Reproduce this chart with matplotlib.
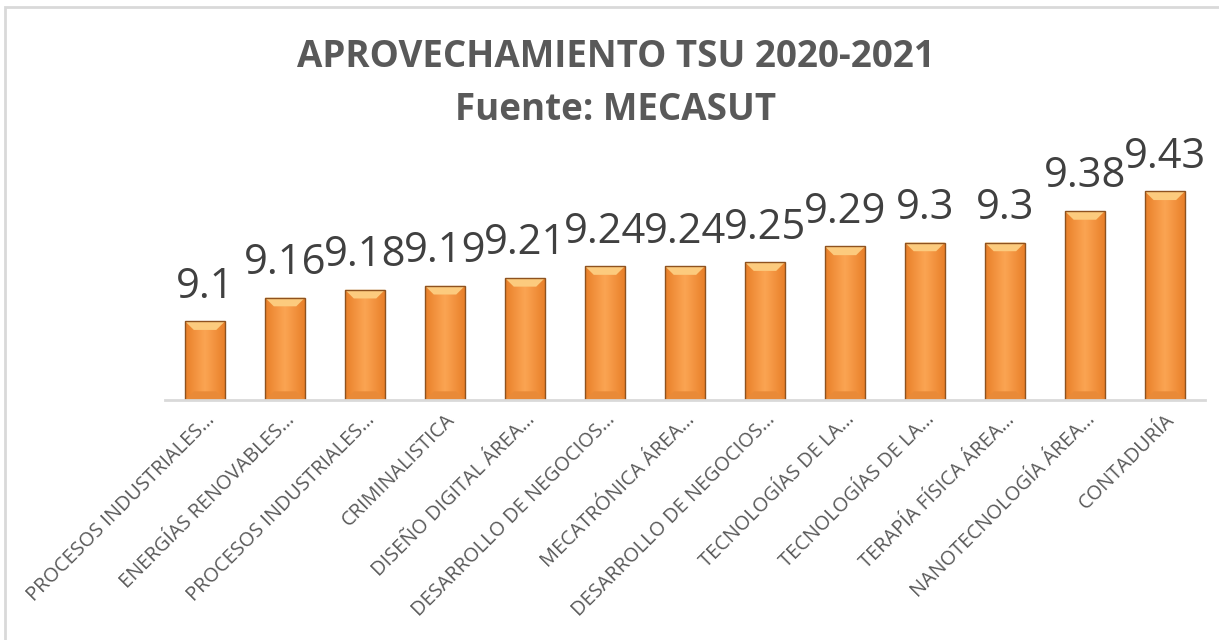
import numpy as np
import matplotlib
matplotlib.use('Agg')
from matplotlib import pyplot as plt
from matplotlib.patches import Polygon, Rectangle

plt.rcParams['font.family'] = ['Open Sans', 'DejaVu Sans']

carreras = ['PROCESOS INDUSTRIALES…', 'ENERGÍAS RENOVABLES…', 'PROCESOS INDUSTRIALES…',
            'CRIMINALISTICA', 'DISEÑO DIGITAL ÁREA…', 'DESARROLLO DE NEGOCIOS…',
            'MECATRÓNICA ÁREA…', 'DESARROLLO DE NEGOCIOS…', 'TECNOLOGÍAS DE LA…',
            'TECNOLOGÍAS DE LA…', 'TERAPÍA FÍSICA ÁREA…', 'NANOTECNOLOGÍA ÁREA…',
            'CONTADURÍA']
aprovechamiento = [9.1, 9.16, 9.18, 9.19, 9.21, 9.24, 9.24, 9.25, 9.29, 9.3, 9.3, 9.38, 9.43]
etiquetas = ['9.1', '9.16', '9.18', '9.19', '9.21', '9.24', '9.24', '9.25', '9.29', '9.3', '9.3', '9.38', '9.43']

ymin, ymax = 8.9, 9.5
gris = '#595959'

fig = plt.figure(figsize=(12.19, 6.4), dpi=100)
# marco exterior (solo se ven arriba e izquierda)
fig.patches.append(Rectangle((0.0045, -0.05), 1.1, 1.039, transform=fig.transFigure,
                             fill=False, edgecolor='#D9D9D9', lw=2))
ax = fig.add_axes((0.1354, 0.375, 0.853, 0.369))

x = np.arange(len(carreras))
w = 0.5
bars = ax.bar(x, np.array(aprovechamiento) - ymin, bottom=ymin, width=w,
              color='#F7963F', lw=0, zorder=2)

# degradado horizontal y biselado
grad = np.linspace(0, 1, 50)
grad = 1 - np.abs(grad - 0.5) * 2
cmap = matplotlib.colors.LinearSegmentedColormap.from_list('o', ['#E9802A', '#FBA452'])
for b, v in zip(bars, aprovechamiento):
    x0 = b.get_x()
    im = ax.imshow(grad[np.newaxis, :], extent=(x0, x0 + w, ymin, v), aspect='auto',
                   cmap=cmap, zorder=2.1)
    im.set_clip_path(b)
    bev = 0.022
    ax.add_patch(Polygon([(x0, v), (x0 + w, v), (x0 + w - 0.11, v - bev), (x0 + 0.11, v - bev)],
                         closed=True, color='#FCCB7E', lw=0, zorder=2.2))
    ax.add_patch(Polygon([(x0, ymin), (x0 + w, ymin), (x0 + w - 0.11, ymin + bev), (x0 + 0.11, ymin + bev)],
                         closed=True, color='#E98A38', lw=0, zorder=2.2))
    ax.add_patch(Rectangle((x0, ymin), w, v - ymin, fill=False, edgecolor='#8E521F', lw=1.0, zorder=2.3))

for xi, v, t in zip(x, aprovechamiento, etiquetas):
    ax.annotate(t, (xi, v), xytext=(0, 17), textcoords='offset points', ha='center', va='baseline',
                fontsize=30, color='#404040')

ax.set_xlim(-0.5, len(carreras) - 0.5)
ax.set_ylim(ymin, ymax)
ax.set_yticks([])
ax.set_xticks(x)
ax.set_xticklabels(carreras, rotation=45, ha='right', rotation_mode='anchor',
                   fontsize=14.3, color=gris)
ax.tick_params(axis='x', length=0, pad=7)
for s in ['top', 'right', 'left']:
    ax.spines[s].set_visible(False)
ax.spines['bottom'].set_color('#D9D9D9')
ax.spines['bottom'].set_linewidth(2)
ax.patch.set_visible(False)

fig.text(0.505, 0.911, 'APROVECHAMIENTO TSU 2020-2021', ha='center', va='center',
         fontsize=26.5, fontweight='bold', color=gris)
fig.text(0.505, 0.828, 'Fuente: MECASUT', ha='center', va='center',
         fontsize=26.5, fontweight='bold', color=gris)

plt.savefig('out.png', dpi=100)
